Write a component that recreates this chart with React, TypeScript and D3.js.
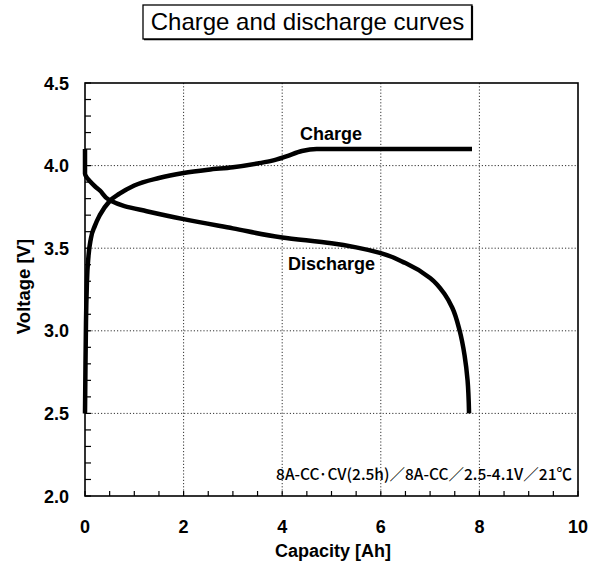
import React from "react";
import * as d3 from "d3";

const chargeCapacity = [0, 0.01, 0.02, 0.04, 0.07, 0.12, 0.2, 0.3, 0.5, 0.7, 1.0, 1.5, 2.0, 2.5, 3.0, 3.5, 3.8, 4.1, 4.4, 4.7, 7.85];
const chargeVoltage = [2.5, 2.8, 3.05, 3.3, 3.45, 3.56, 3.635, 3.7, 3.785, 3.83, 3.88, 3.925, 3.955, 3.975, 3.99, 4.013, 4.03, 4.058, 4.088, 4.1, 4.1];

const dischargeCapacity = [0, 0, 0.03, 0.1, 0.2, 0.3, 0.5, 0.8, 1.25, 2.0, 3.0, 4.0, 5.0, 5.5, 6.0, 6.5, 7.0, 7.3, 7.45, 7.6, 7.7, 7.76, 7.79];
const dischargeVoltage = [4.1, 3.95, 3.93, 3.905, 3.875, 3.85, 3.79, 3.755, 3.724, 3.676, 3.62, 3.565, 3.53, 3.505, 3.47, 3.41, 3.32, 3.22, 3.14, 3.0, 2.85, 2.7, 2.5];

const xTicks = [0, 2, 4, 6, 8, 10];
const yTicks = [2.0, 2.5, 3.0, 3.5, 4.0, 4.5];
const xMinor = d3.range(0, 10.001, 0.5);
const yMinor = d3.range(2.0, 4.501, 0.1);

const titleText = "Charge and discharge curves";
const xLabel = "Capacity [Ah]";
const yLabel = "Voltage [V]";
const chargeLabel = "Charge";
const dischargeLabel = "Discharge";
const noteText = "8A-CC·CV(2.5h)／8A-CC／2.5-4.1V／21℃";

export default function App() {
  const W = 601, H = 566;
  const L = 85, R = 578, T = 83, B = 496;
  const x = d3.scaleLinear().domain([0, 10]).range([L, R]);
  const y = d3.scaleLinear().domain([2.0, 4.5]).range([B, T]);
  const chargeLine = d3
    .line<[number, number]>()
    .x((d) => x(d[0]))
    .y((d) => y(d[1]))
    .curve(d3.curveMonotoneX);
  const dischargeLine = d3
    .line<[number, number]>()
    .x((d) => x(d[0]))
    .y((d) => y(d[1]))
    .curve(d3.curveMonotoneY);
  const charge = chargeCapacity.map((c, i) => [c, chargeVoltage[i]] as [number, number]);
  const discharge = dischargeCapacity.map((c, i) => [c, dischargeVoltage[i]] as [number, number]);
  const font = "'Liberation Sans', Arial, sans-serif";

  return (
    <svg width={W} height={H} style={{ position: "absolute", left: 0, top: 0, background: "#fff" }}>
      <rect x={0} y={0} width={W} height={H} fill="#fff" />
      {/* title */}
      <rect x={143} y={5} width={329} height={34} fill="#fff" stroke="#000" strokeWidth={1.3} />
      <line x1={472} y1={6} x2={472} y2={40} stroke="#000" strokeWidth={2.2} />
      <line x1={144} y1={39.5} x2={473} y2={39.5} stroke="#000" strokeWidth={1.6} />
      <text x={307.5} y={30} textAnchor="middle" fontFamily={font} fontSize={24} fill="#000">
        {titleText}
      </text>

      {/* grid */}
      {xTicks.slice(1, -1).map((t) => (
        <line key={"gx" + t} x1={x(t)} x2={x(t)} y1={T} y2={B} stroke="#333" strokeWidth={1} strokeDasharray="1.2,2" />
      ))}
      {yTicks.slice(1, -1).map((t) => (
        <line key={"gy" + t} x1={L} x2={R} y1={y(t)} y2={y(t)} stroke="#333" strokeWidth={1} strokeDasharray="1.2,2" />
      ))}

      {/* minor ticks */}
      {yMinor.map((t) => (
        <line key={"my" + t} x1={L} x2={L + 6} y1={y(t)} y2={y(t)} stroke="#000" strokeWidth={1.2} />
      ))}
      {xMinor.map((t) => (
        <line key={"mx" + t} x1={x(t)} x2={x(t)} y1={B} y2={B - 5} stroke="#000" strokeWidth={1.2} />
      ))}

      {/* frame */}
      <rect x={L} y={T} width={R - L} height={B - T} fill="none" stroke="#000" strokeWidth={1.6} />

      {/* curves */}
      <path d={chargeLine(charge) || ""} fill="none" stroke="#000" strokeWidth={4.5} strokeLinejoin="round" />
      <path d={dischargeLine(discharge) || ""} fill="none" stroke="#000" strokeWidth={4.5} strokeLinejoin="round" />

      {/* tick labels */}
      {yTicks.map((t) => (
        <text key={"ly" + t} x={69} y={y(t) + 6.5} textAnchor="end" fontFamily={font} fontWeight="bold" fontSize={18} fill="#000">
          {t.toFixed(1)}
        </text>
      ))}
      {xTicks.map((t) => (
        <text key={"lx" + t} x={x(t)} y={533} textAnchor="middle" fontFamily={font} fontWeight="bold" fontSize={18} fill="#000">
          {t}
        </text>
      ))}

      {/* axis labels */}
      <text x={333} y={557} textAnchor="middle" fontFamily={font} fontWeight="bold" fontSize={18} fill="#000">
        {xLabel}
      </text>
      <text
        transform="translate(30,286.5) rotate(-90)"
        textAnchor="middle"
        fontFamily={font}
        fontWeight="bold"
        fontSize={18.5}
        fill="#000"
      >
        {yLabel}
      </text>

      {/* curve labels */}
      <text x={300} y={140} fontFamily={font} fontWeight="bold" fontSize={18} fill="#000">
        {chargeLabel}
      </text>
      <text x={288} y={270} fontFamily={font} fontWeight="bold" fontSize={18} fill="#000">
        {dischargeLabel}
      </text>

      {/* note */}
      <text
        x={572}
        y={480}
        textAnchor="end"
        fontFamily="'Noto Sans CJK JP', 'Noto Sans', sans-serif"
        fontSize={15.5}
        fontWeight={500}
        fill="#000"
      >
        {noteText}
      </text>
    </svg>
  );
}
